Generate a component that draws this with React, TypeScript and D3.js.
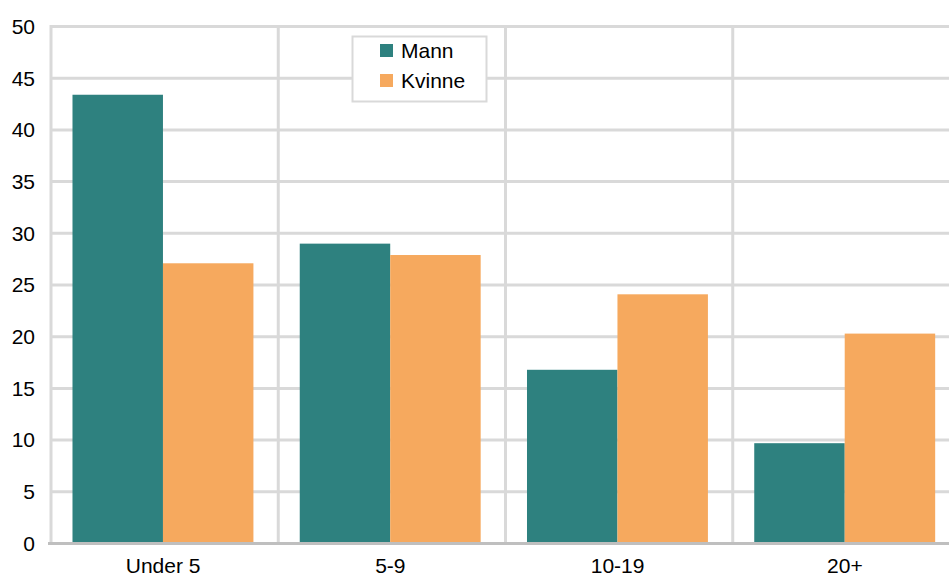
import React from "react";
import * as d3 from "d3";

const categories = ["Under 5", "5-9", "10-19", "20+"];
const seriesNames = ["Mann", "Kvinne"];
const mannValues = [43.4, 29.0, 16.8, 9.7];
const kvinneValues = [27.1, 27.9, 24.1, 20.3];
const yTicks = [0, 5, 10, 15, 20, 25, 30, 35, 40, 45, 50];
const colors = ["#2e817f", "#f6a95e"];

const W = 949;
const H = 576;
const left = 51;
const right = 960;
const top = 26.5;
const bottom = 543.5;

export default function App() {
  const x = d3.scaleBand<string>().domain(categories).range([left, right]).paddingInner(0).paddingOuter(0);
  const inner = d3
    .scaleBand<string>()
    .domain(seriesNames)
    .range([0, x.bandwidth()])
    .paddingInner(0)
    .paddingOuter(0.256)
    .align(0.464);
  const y = d3.scaleLinear().domain([0, 50]).range([bottom, top]);
  const series = [mannValues, kvinneValues];
  const font = "Liberation Sans, Arial, sans-serif";

  return (
    <svg width={W} height={H} style={{ position: "fixed", left: 0, top: 0, background: "#fff" }} fontFamily={font}>
      <rect width={W} height={H} fill="#fff" />
      {yTicks.filter((t) => t > 0).map((t) => (
        <line key={"h" + t} x1={left} x2={W} y1={y(t)} y2={y(t)} stroke="#d9d9d9" strokeWidth={3} />
      ))}
      {categories.map((c) => (
        <line key={"v" + c} x1={x(c)!} x2={x(c)!} y1={top - 1.5} y2={bottom} stroke="#d9d9d9" strokeWidth={3} />
      ))}
      <line x1={right} x2={right} y1={top - 1.5} y2={bottom} stroke="#d9d9d9" strokeWidth={3} />
      {categories.map((c, i) =>
        series.map((vals, s) => (
          <rect
            key={c + s}
            x={x(c)! + inner(seriesNames[s])!}
            y={y(vals[i])}
            width={inner.bandwidth()}
            height={bottom - y(vals[i])}
            fill={colors[s]}
          />
        ))
      )}
      <line x1={left - 3} x2={W} y1={bottom} y2={bottom} stroke="#bfbfbf" strokeWidth={3} />
      {yTicks.map((t) => (
        <text key={"yt" + t} x={35} y={y(t)} dy="0.35em" textAnchor="end" fontSize={21} fill="#000">
          {t}
        </text>
      ))}
      {categories.map((c) => (
        <text key={"xt" + c} x={x(c)! + x.bandwidth() / 2 - 1.5} y={573} textAnchor="middle" fontSize={21} fill="#000">
          {c}
        </text>
      ))}
      <g>
        <rect x={352.5} y={36.5} width={134} height={65} fill="#fff" stroke="#d9d9d9" strokeWidth={2} />
        {seriesNames.map((n, i) => (
          <g key={n}>
            <rect x={380} y={44 + i * 30} width={13} height={13} fill={colors[i]} />
            <text x={401} y={50.5 + i * 30} dy="0.35em" fontSize={21} fill="#000">
              {n}
            </text>
          </g>
        ))}
      </g>
    </svg>
  );
}
